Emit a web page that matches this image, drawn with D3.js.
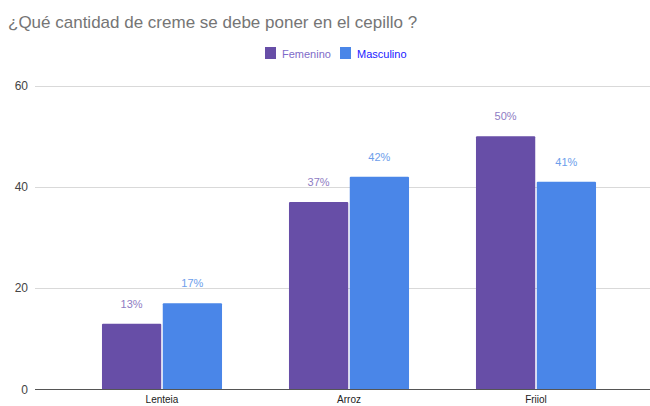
<!DOCTYPE html>
<meta charset="utf-8">
<style>
body { margin: 0; background: #fff; }
text { font-family: "Liberation Sans", Arial, sans-serif; }
.grid line { stroke: #d9d9d9; stroke-width: 1px; shape-rendering: crispEdges; }
.ytick { font-size: 12px; fill: #444; text-anchor: end; }
.xtick { font-size: 10px; fill: #222; text-anchor: middle; }
</style>
<svg width="650" height="406"></svg>
<script src="https://d3js.org/d3.v7.min.js"></script>
<script>

var categories = ["Lenteia", "Arroz", "Friiol"];
var femenino = [13, 37, 50];
var masculino = [17, 42, 41];
var seriesNames = ["Femenino", "Masculino"];
var yTicks = [0, 20, 40, 60];

var svg = d3.select("svg");

var colors = ["#674ea7", "#4a86e8"],
    labelColors = ["#8e7cc3", "#6d9eeb"],
    legendText = ["#7e6bc9", "#1a1aff"];

var plotLeft = 35, plotRight = 650;

var y = d3.scaleLinear()
    .domain([0, 60])
    .range([389.5, 85.5]);

var x = d3.scaleBand()
    .domain(categories)
    .range([68.5, 629.5])
    .paddingInner(0.358)
    .paddingOuter(0.179);

var x1 = d3.scaleBand()
    .domain(seriesNames)
    .range([0, x.bandwidth()])
    .paddingInner(0.025);

// title
svg.append("text")
    .attr("x", 8)
    .attr("y", 28)
    .style("font-size", "17px")
    .style("fill", "#757575")
    .text("¿Qué cantidad de creme se debe poner en el cepillo ?");

// legend
var legend = svg.selectAll(".legend")
    .data(seriesNames)
  .enter().append("g")
    .attr("class", "legend")
    .attr("transform", function(d, i) { return "translate(" + (265 + i * 75) + ",47)"; });

legend.append("rect")
    .attr("width", 11)
    .attr("height", 12)
    .style("fill", function(d, i) { return colors[i]; });

legend.append("text")
    .attr("x", 17)
    .attr("y", 10.5)
    .style("font-size", "11px")
    .style("fill", function(d, i) { return legendText[i]; })
    .text(function(d) { return d; });

// gridlines
var grid = svg.append("g").attr("class", "grid");
grid.selectAll("line")
    .data(yTicks.slice(1))
  .enter().append("line")
    .attr("x1", plotLeft)
    .attr("x2", plotRight)
    .attr("y1", function(d) { return Math.round(y(d)) + 0.5; })
    .attr("y2", function(d) { return Math.round(y(d)) + 0.5; });

svg.selectAll(".ytick")
    .data(yTicks)
  .enter().append("text")
    .attr("class", "ytick")
    .attr("x", 28)
    .attr("y", function(d) { return y(d) + 4; })
    .text(function(d) { return d; });

// bars
var rows = categories.map(function(c, i) {
  return [
    {cat: c, key: seriesNames[0], value: femenino[i], s: 0},
    {cat: c, key: seriesNames[1], value: masculino[i], s: 1}
  ];
});

var group = svg.selectAll(".cat")
    .data(rows)
  .enter().append("g")
    .attr("class", "cat")
    .attr("transform", function(d) { return "translate(" + x(d[0].cat) + ",0)"; });

group.selectAll("rect")
    .data(function(d) { return d; })
  .enter().append("rect")
    .attr("x", function(d) { return x1(d.key); })
    .attr("y", function(d) { return y(d.value); })
    .attr("width", x1.bandwidth())
    .attr("height", function(d) { return y(0) - y(d.value); })
    .attr("rx", 1)
    .style("fill", function(d) { return colors[d.s]; });

group.selectAll(".val")
    .data(function(d) { return d; })
  .enter().append("text")
    .attr("class", "val")
    .attr("x", function(d) { return x1(d.key) + x1.bandwidth() / 2; })
    .attr("y", function(d) { return y(d.value) - 16; })
    .attr("text-anchor", "middle")
    .style("font-size", "11px")
    .style("fill", function(d) { return labelColors[d.s]; })
    .text(function(d) { return d.value + "%"; });

// baseline
svg.append("line")
    .attr("x1", plotLeft)
    .attr("x2", plotRight)
    .attr("y1", y(0))
    .attr("y2", y(0))
    .style("stroke", "#555")
    .style("stroke-width", 1);

svg.selectAll(".xtick")
    .data(categories)
  .enter().append("text")
    .attr("class", "xtick")
    .attr("x", function(d) { return x(d) + x.bandwidth() / 2; })
    .attr("y", 403)
    .text(function(d) { return d; });

</script>
